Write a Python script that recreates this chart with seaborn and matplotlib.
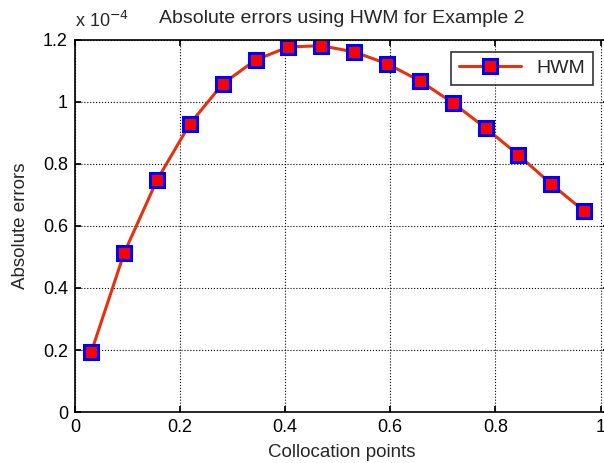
import numpy as np
import pandas as pd
import matplotlib
matplotlib.use("Agg")
import matplotlib.pyplot as plt
from matplotlib.ticker import FuncFormatter, MultipleLocator
import seaborn as sns

# collocation points and HWM absolute errors
colloc_pts = [0.03125, 0.09375, 0.15625, 0.21875, 0.28125, 0.34375, 0.40625, 0.46875,
              0.53125, 0.59375, 0.65625, 0.71875, 0.78125, 0.84375, 0.90625, 0.96875]
abs_err = [0.194e-4, 0.513e-4, 0.748e-4, 0.929e-4, 1.058e-4, 1.135e-4, 1.177e-4, 1.181e-4,
           1.161e-4, 1.123e-4, 1.068e-4, 0.997e-4, 0.916e-4, 0.829e-4, 0.735e-4, 0.648e-4]
series_name = "HWM"

df = pd.DataFrame({"x": colloc_pts, "err": abs_err, "method": series_name})

sns.set_theme(style="white")
plt.rcParams["font.family"] = ["Liberation Sans", "DejaVu Sans"]

fig = plt.figure(figsize=(6.04, 4.63), dpi=100)
# right edge runs just past the image, like the cropped original
ax = fig.add_axes([0.124, 0.110, 0.885, 0.804])

sns.lineplot(data=df, x="x", y="err", hue="method", palette=["#e8300e"],
             marker="s", markersize=10, markerfacecolor="red", markeredgecolor="blue",
             markeredgewidth=2.2, linewidth=2.2, ax=ax)

ax.set_xlim(0, 1.017)
ax.set_ylim(0, 1.2e-4)
ax.xaxis.set_major_locator(MultipleLocator(0.2))
ax.yaxis.set_major_locator(MultipleLocator(0.2e-4))
ax.xaxis.set_major_formatter(FuncFormatter(lambda v, p: f"{v:g}"))
ax.yaxis.set_major_formatter(FuncFormatter(lambda v, p: f"{round(v / 1e-4, 6):g}"))
ax.grid(True, color="black", linestyle=":", linewidth=0.8)
ax.tick_params(direction="in", length=4, labelsize=13, colors="black", pad=5,
               top=True, right=True, bottom=True, left=True)
for s in ax.spines.values():
    s.set_color("black")
    s.set_linewidth(1.2)

ax.set_xlabel("Collocation points", fontsize=13.5, labelpad=6)
ax.set_ylabel("Absolute errors", fontsize=13.5, labelpad=10)
ax.set_title("Absolute errors using HWM for Example 2", fontsize=14, pad=12)
ax.text(0.0, 1.025, r"x 10$^{-4}$", transform=ax.transAxes, fontsize=13, va="bottom")

leg = ax.legend(loc="upper right", fontsize=14, frameon=True, fancybox=False,
                edgecolor="black", handlelength=3.2, borderpad=0.4,
                bbox_to_anchor=(0.988, 0.994))
leg.get_frame().set_linewidth(1.2)

fig.savefig("out.png", dpi=100)
